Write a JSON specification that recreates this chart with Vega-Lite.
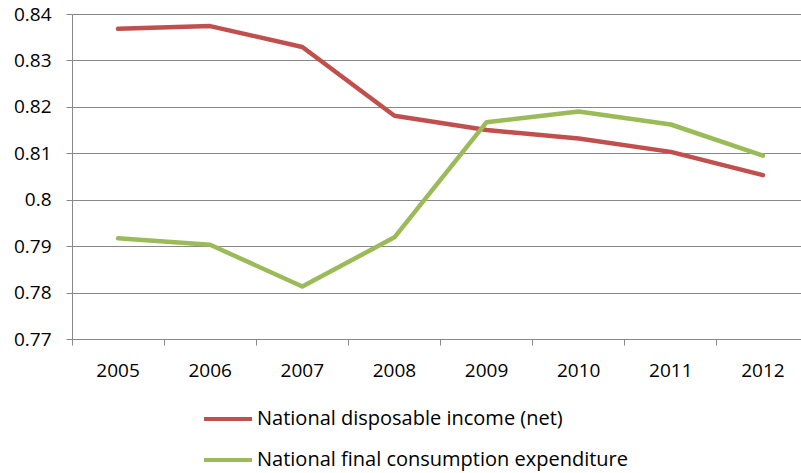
{
  "$schema": "https://vega.github.io/schema/vega-lite/v6.json",
  "autosize": {"type": "none"},
  "width": 737,
  "height": 325,
  "padding": {"left": 72, "top": 14, "right": 0, "bottom": 134},
  "background": "white",
  "config": {
    "view": {"stroke": null},
    "font": "Open Sans"
  },
  "data": {
    "values": [
      {"year": "2005", "series": "National disposable income (net)", "value": 0.8368},
      {"year": "2006", "series": "National disposable income (net)", "value": 0.8374},
      {"year": "2007", "series": "National disposable income (net)", "value": 0.8329},
      {"year": "2008", "series": "National disposable income (net)", "value": 0.8181},
      {"year": "2009", "series": "National disposable income (net)", "value": 0.8150},
      {"year": "2010", "series": "National disposable income (net)", "value": 0.8132},
      {"year": "2011", "series": "National disposable income (net)", "value": 0.8103},
      {"year": "2012", "series": "National disposable income (net)", "value": 0.8053},
      {"year": "2005", "series": "National final consumption expenditure", "value": 0.7917},
      {"year": "2006", "series": "National final consumption expenditure", "value": 0.7903},
      {"year": "2007", "series": "National final consumption expenditure", "value": 0.7813},
      {"year": "2008", "series": "National final consumption expenditure", "value": 0.7919},
      {"year": "2009", "series": "National final consumption expenditure", "value": 0.8167},
      {"year": "2010", "series": "National final consumption expenditure", "value": 0.8190},
      {"year": "2011", "series": "National final consumption expenditure", "value": 0.8162},
      {"year": "2012", "series": "National final consumption expenditure", "value": 0.8095}
    ]
  },
  "mark": {"type": "line", "strokeWidth": 4.5, "strokeCap": "round", "strokeJoin": "round"},
  "encoding": {
    "x": {
      "field": "year",
      "type": "ordinal",
      "scale": {"type": "band", "paddingInner": 0, "paddingOuter": 0},
      "axis": {
        "title": null,
        "labelAngle": 0,
        "bandPosition": 0,
        "grid": false,
        "domainColor": "#888888",
        "tickColor": "#888888",
        "tickSize": 6,
        "labelFontSize": 19,
        "labelColor": "#000000",
        "labelPadding": 16,
        "labelFlush": false,
        "labelBound": false,
        "labelOverlap": false
      }
    },
    "y": {
      "field": "value",
      "type": "quantitative",
      "scale": {"domain": [0.77, 0.84], "nice": false, "zero": false},
      "axis": {
        "title": null,
        "values": [0.77, 0.78, 0.79, 0.8, 0.81, 0.82, 0.83, 0.84],
        "format": "~g",
        "grid": true,
        "gridColor": "#888888",
        "gridWidth": 1,
        "domainColor": "#888888",
        "tickColor": "#888888",
        "tickSize": 6,
        "labelFontSize": 19,
        "labelColor": "#000000",
        "labelPadding": 15,
        "labelFlush": false
      }
    },
    "color": {
      "field": "series",
      "type": "nominal",
      "scale": {
        "domain": ["National disposable income (net)", "National final consumption expenditure"],
        "range": ["#C0504D", "#9BBB59"]
      },
      "legend": {
        "title": null,
        "orient": "none",
        "legendX": 130,
        "legendY": 379,
        "direction": "vertical",
        "symbolType": "stroke",
        "symbolSize": 2304,
        "symbolStrokeWidth": 4,
        "labelFontSize": 20,
        "labelColor": "#000000",
        "labelOffset": 3,
        "labelLimit": 600,
        "rowPadding": 5
      }
    }
  }
}
